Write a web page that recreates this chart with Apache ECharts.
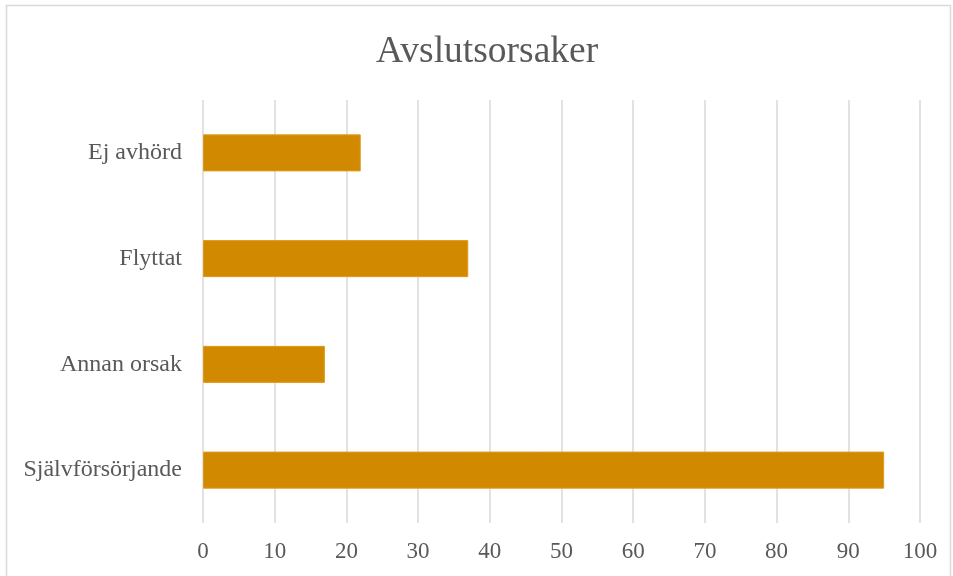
<!DOCTYPE html>
<html>
<head>
<meta charset="utf-8">
<script src="https://cdn.jsdelivr.net/npm/echarts@6/dist/echarts.min.js"></script>
<style>
  html, body { margin: 0; padding: 0; background: #fff; }
  #chart { width: 953px; height: 576px; }
</style>
</head>
<body>
<div id="chart"></div>
<script>
// data
var categories = ['Självförsörjande', 'Annan orsak', 'Flyttat', 'Ej avhörd'];
var values = [95, 17, 37, 22];
var chartTitle = 'Avslutsorsaker';

var chart = echarts.init(document.getElementById('chart'));

var option = {
    backgroundColor: '#fff',
    animation: false,
    title: {
        text: chartTitle,
        left: 371,
        top: 28,
        textStyle: {
            fontFamily: 'Liberation Serif',
            fontSize: 37.5,
            fontWeight: 'normal',
            color: '#595959'
        }
    },
    graphic: [{
        type: 'rect',
        shape: { x: 6.5, y: 5.5, width: 944, height: 580 },
        style: { fill: 'none', stroke: '#d9d9d9', lineWidth: 1.5 },
        silent: true
    }],
    grid: {
        left: 203,
        right: 33,
        top: 100,
        bottom: 53
    },
    xAxis: {
        type: 'value',
        min: 0,
        max: 100,
        interval: 10,
        axisLine: { show: false },
        axisTick: { show: false },
        splitLine: { lineStyle: { color: '#d9d9d9', width: 1.5 } },
        axisLabel: {
            margin: 17,
            fontFamily: 'Liberation Serif',
            fontSize: 23,
            color: '#595959'
        }
    },
    yAxis: {
        type: 'category',
        data: categories,
        axisLine: { show: false },
        axisTick: { show: false },
        axisLabel: {
            margin: 21,
            fontFamily: 'Liberation Serif',
            fontSize: 24,
            color: '#595959'
        }
    },
    series: [{
        type: 'bar',
        data: values,
        barWidth: '35%',
        itemStyle: { color: '#D18A00', borderColor: '#E09A1A', borderWidth: 1 }
    }]
};

chart.setOption(option);
</script>
</body>
</html>
